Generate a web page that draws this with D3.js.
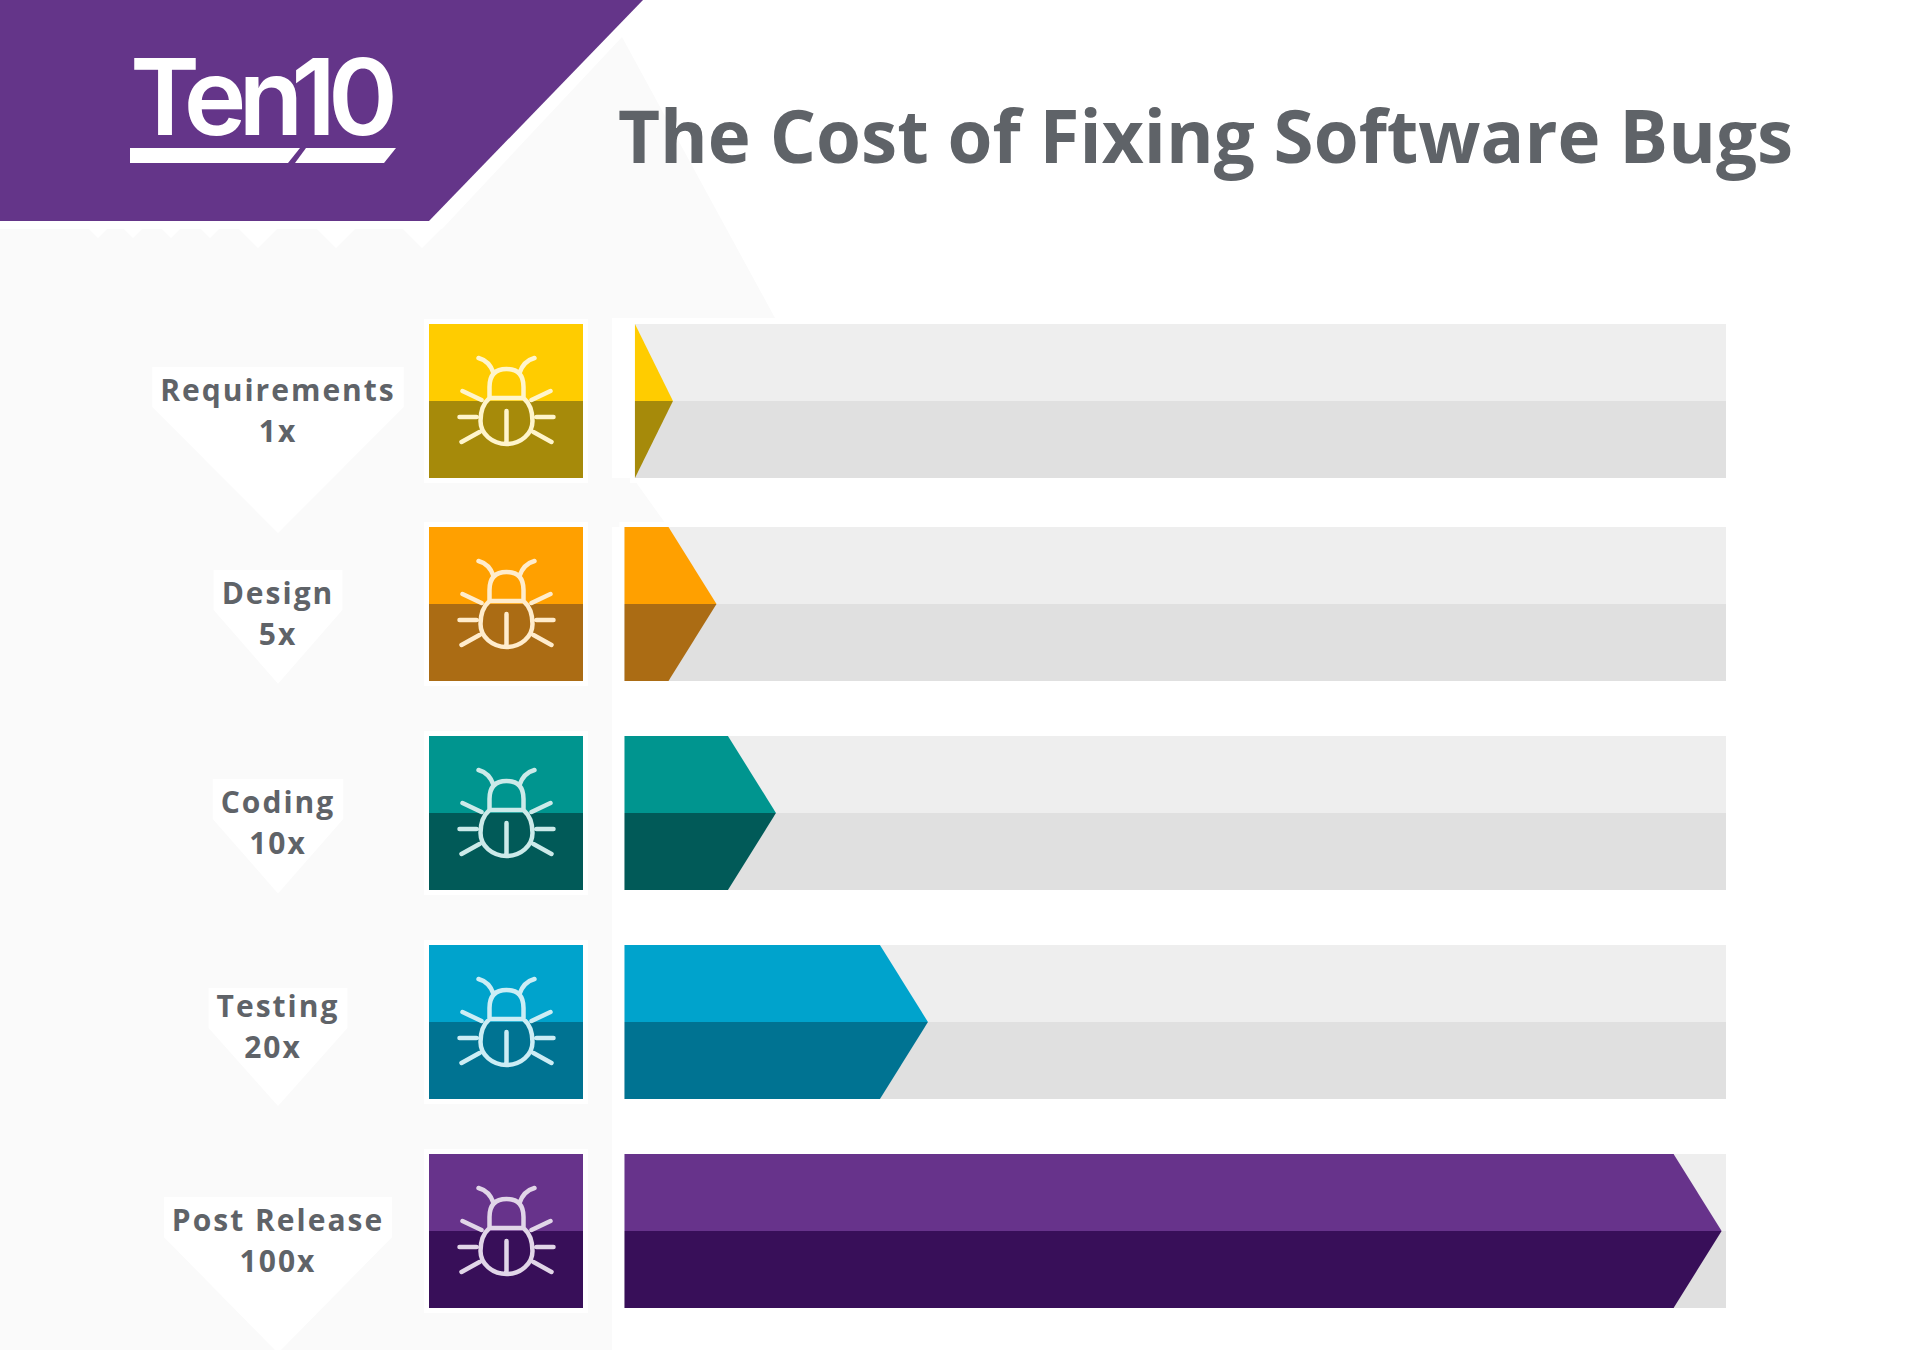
<!DOCTYPE html>
<html>
<head>
<meta charset="utf-8">
<title>The Cost of Fixing Software Bugs</title>
<script src="https://cdn.jsdelivr.net/npm/d3@7"></script>
<style>
  html, body { margin: 0; padding: 0; background: #fff; }
  svg { display: block; }
  text { font-family: "Open Sans", sans-serif; fill: #5f6368; }
</style>
</head>
<body>
<div id="chart"></div>
<script>
const categories = ["Requirements", "Design", "Coding", "Testing", "Post Release"];
const multipliers = [1, 5, 10, 20, 100];
// where each arrow starts and where its tip lands, in % of the grey track
const barStart = [0.95, 0, 0, 0, 0];
const barTip = [4.4, 8.35, 13.75, 27.55, 99.6];
const lightColors = ["#ffcc00", "#ffa000", "#00958f", "#00a3cc", "#67338b"];
const darkColors = ["#a68a0a", "#ab6c14", "#015a58", "#007392", "#380f59"];

const width = 1912;
const height = 1350;
const halfBar = 77;
const arrowDepth = 48;

const rows = categories.map((name, i) => ({
  name,
  multiplier: multipliers[i],
  start: barStart[i],
  tip: barTip[i],
  light: lightColors[i],
  dark: darkColors[i],
}));

const x = d3.scaleLinear().domain([0, 100]).range([624.5, 1726]);
const y = d3.scaleOrdinal().domain(categories).range([401, 604, 813, 1022, 1231]);
// the labels don't sit quite on the row centres
const labelY = d3.scaleOrdinal().domain(categories).range([401, 604, 813, 1017, 1231]);
const valueX = d3.scaleOrdinal().domain(categories).range([278, 278, 278, 273, 278]);

const svg = d3.select("#chart").append("svg").attr("width", width).attr("height", height);

// faint page background
const bgPath = d3.path();
bgPath.moveTo(0, 229);
bgPath.lineTo(442, 229);
bgPath.lineTo(622, 37);
bgPath.lineTo(775, 318);
bgPath.lineTo(612, 318);
bgPath.lineTo(612, 478);
bgPath.lineTo(633, 478);
bgPath.lineTo(668, 527);
bgPath.lineTo(612, 527);
bgPath.lineTo(612, height);
bgPath.lineTo(0, height);
bgPath.closePath();
svg.append("path").attr("d", bgPath).attr("fill", "#fafafa");

// little white teeth under the banner
const teeth = [[98, 10], [133, 10], [171, 10], [210, 10], [258, 20], [336, 20], [422, 20]];
svg.selectAll(".tooth")
  .data(teeth)
  .enter()
  .append("path")
  .attr("class", "tooth")
  .attr("fill", "#fff")
  .attr("d", (d) => `M${d[0] - d[1]},228 L${d[0] + d[1]},228 L${d[0]},${228 + d[1]} Z`);

// banner and logo
const banner = d3.path();
banner.moveTo(0, 0);
banner.lineTo(643, 0);
banner.lineTo(429, 221);
banner.lineTo(0, 221);
banner.closePath();
svg.append("path").attr("d", banner).attr("fill", "#643589");

svg.append("text")
  .attr("x", 130)
  .attr("y", 135)
  .attr("textLength", 268)
  .attr("lengthAdjust", "spacing")
  .style("font-family", "Inter")
  .style("font-weight", 600)
  .style("font-size", "106px")
  .style("fill", "#fff")
  .text("Ten10");

svg.append("path").attr("fill", "#fff").attr("d", "M130,148 L300,148 L288,163 L130,163 Z");
svg.append("path").attr("fill", "#fff").attr("d", "M306,148 L396,148 L384,163 L295,163 Z");

svg.append("text")
  .attr("x", 618)
  .attr("y", 163)
  .style("font-weight", 700)
  .style("font-size", "72.7px")
  .text("The Cost of Fixing Software Bugs");

// labels sit on white pointers that are sized off the text
const labels = svg.selectAll(".label").data(rows).enter().append("g").attr("class", "label");
const pointers = labels.append("path").attr("fill", "#fff");

labels.append("text")
  .attr("class", "label-name")
  .attr("x", 278)
  .attr("y", (d) => labelY(d.name))
  .attr("text-anchor", "middle")
  .style("font-weight", 700)
  .style("font-size", "30px")
  .style("letter-spacing", "2px")
  .text((d) => d.name);

labels.append("text")
  .attr("x", (d) => valueX(d.name))
  .attr("y", (d) => labelY(d.name) + 41)
  .attr("text-anchor", "middle")
  .style("font-weight", 700)
  .style("font-size", "30px")
  .style("letter-spacing", "2px")
  .text((d) => `${d.multiplier}x`);

pointers.attr("d", function (d) {
  const name = d3.select(this.parentNode).select(".label-name").node();
  const half = name.getComputedTextLength() / 2 + 8;
  const mid = y(d.name);
  const p = d3.path();
  p.moveTo(278 - half, mid - 34);
  p.lineTo(278 + half, mid - 34);
  p.lineTo(278 + half, mid + 6);
  p.lineTo(278, mid + 25 + half * 0.85);
  p.lineTo(278 - half, mid + 6);
  p.closePath();
  return p;
});

// white halos behind tiles and bars
const halos = svg.selectAll(".halo").data(rows).enter().append("g").attr("class", "halo");

halos.append("rect")
  .attr("x", 424)
  .attr("width", 164)
  .attr("y", (d) => y(d.name) - halfBar - 5)
  .attr("height", halfBar * 2 + 10)
  .attr("fill", "#fff");

halos.append("rect")
  .attr("x", (d) => x(d.start) - 5)
  .attr("width", (d) => x(100) - x(d.start) + 10)
  .attr("y", (d) => y(d.name) - halfBar - 5)
  .attr("height", halfBar * 2 + 10)
  .attr("fill", "#fff");

// icon tiles
const tiles = svg.selectAll(".tile").data(rows).enter().append("g").attr("class", "tile");

tiles.append("rect")
  .attr("x", 429)
  .attr("width", 154)
  .attr("y", (d) => y(d.name) - halfBar)
  .attr("height", halfBar)
  .attr("fill", (d) => d.light);

tiles.append("rect")
  .attr("x", 429)
  .attr("width", 154)
  .attr("y", (d) => y(d.name))
  .attr("height", halfBar)
  .attr("fill", (d) => d.dark);

const bugIcon = [
  "M-17,-3 L-17,-14 Q-17,-32 0,-32 Q17,-32 17,-14 L17,-3",
  "M-17,-3 L17,-3 C24,3 26,12 26,20 C26,33 14,43 0,43 C-14,43 -26,33 -26,20 C-26,12 -24,3 -17,-3 Z",
  "M0,10 L0,42",
  "M13,-28 Q17,-40 28,-43 M-13,-28 Q-17,-40 -28,-43",
  "M25,-1 L44,-10 M-25,-1 L-44,-10",
  "M30,16 L47,16 M-30,16 L-47,16",
  "M27,31 L45,41 M-27,31 L-45,41",
].join(" ");

tiles.append("path")
  .attr("d", bugIcon)
  .attr("transform", (d) => `translate(506.5,${y(d.name)})`)
  .attr("fill", "none")
  .attr("stroke", (d) => d3.interpolateRgb(d.light, "#fff")(0.8))
  .attr("stroke-width", 4.5)
  .attr("stroke-linecap", "round");

// grey tracks
const tracks = svg.selectAll(".track").data(rows).enter().append("g").attr("class", "track");

tracks.append("rect")
  .attr("x", (d) => x(d.start))
  .attr("width", (d) => x(100) - x(d.start))
  .attr("y", (d) => y(d.name) - halfBar)
  .attr("height", halfBar)
  .attr("fill", "#eeeeee");

tracks.append("rect")
  .attr("x", (d) => x(d.start))
  .attr("width", (d) => x(100) - x(d.start))
  .attr("y", (d) => y(d.name))
  .attr("height", halfBar)
  .attr("fill", "#e0e0e0");

// arrows, one half at a time
const drawHalf = (d, dir) => {
  const mid = y(d.name);
  const left = x(d.start);
  const tip = x(d.tip);
  const shoulder = Math.max(left, tip - arrowDepth);
  const p = d3.path();
  p.moveTo(left, mid);
  p.lineTo(left, mid + dir * halfBar);
  p.lineTo(shoulder, mid + dir * halfBar);
  p.lineTo(tip, mid);
  p.closePath();
  return p;
};

const arrows = svg.selectAll(".arrow").data(rows).enter().append("g").attr("class", "arrow");

arrows.append("path").attr("d", (d) => drawHalf(d, -1)).attr("fill", (d) => d.light);
arrows.append("path").attr("d", (d) => drawHalf(d, 1)).attr("fill", (d) => d.dark);
</script>
</body>
</html>
